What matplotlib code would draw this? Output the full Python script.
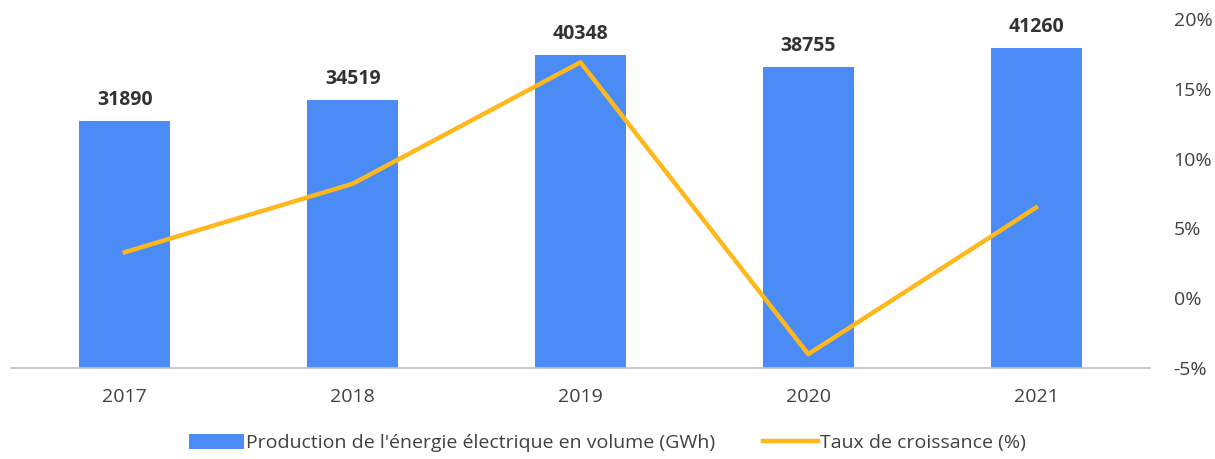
import matplotlib.pyplot as plt
from matplotlib.ticker import FuncFormatter

years = ["2017", "2018", "2019", "2020", "2021"]
production = [31890, 34519, 40348, 38755, 41260]
growth = [3.3, 8.2, 16.9, -4.0, 6.5]
right_ticks = [-5, 0, 5, 10, 15, 20]

bar_color = "#4A8BF5"
line_color = "#FFB81C"
plt.rcParams['font.family'] = ['Open Sans', 'DejaVu Sans']
fs = 14

fig = plt.figure(figsize=(12.15, 4.59), dpi=100)
ax = fig.add_axes([0.009, 0.198, 0.9375, 0.7606])
x = range(len(years))
bars = ax.bar(x, production, width=0.4, color=bar_color, zorder=2,
              label="Production de l'énergie électrique en volume (GWh)")
for xi, v in zip(x, production):
    ax.annotate(str(v), (xi, v), xytext=(0, 8), textcoords="offset points",
                ha="center", va="bottom", fontsize=fs, fontweight="bold", color="#333333")
ax.set_ylim(0, 45000)
ax.set_xlim(-0.5, 4.5)
ax.set_yticks([])
ax.set_xticks(list(x))
ax.set_xticklabels(years, fontsize=fs, color="#404040")
ax.tick_params(axis="x", length=0, pad=14)
for s in ["top", "left", "right"]:
    ax.spines[s].set_visible(False)
ax.spines["bottom"].set_color("#BFBFBF")
ax.spines["bottom"].set_linewidth(1.2)

ax2 = ax.twinx()
line, = ax2.plot(list(x), growth, color=line_color, linewidth=3.2, zorder=3,
                 label="Taux de croissance (%)")
ax2.set_ylim(-5, 20)
ax2.set_yticks(right_ticks)
ax2.yaxis.set_major_formatter(FuncFormatter(lambda v, p: f"{v:.0f}%"))
ax2.tick_params(axis="y", length=0, pad=17, labelsize=fs, labelcolor="#404040")
for s in ["top", "left", "right", "bottom"]:
    ax2.spines[s].set_visible(False)

fig.legend([bars, line], [bars.get_label(), line.get_label()], loc="center",
           bbox_to_anchor=(0.5, 0.035), ncol=2, frameon=False, fontsize=fs,
           handlelength=2.8, handleheight=0.8, handletextpad=0.1, columnspacing=2.5,
           labelcolor="#404040")

fig.savefig("out.png", dpi=100)
